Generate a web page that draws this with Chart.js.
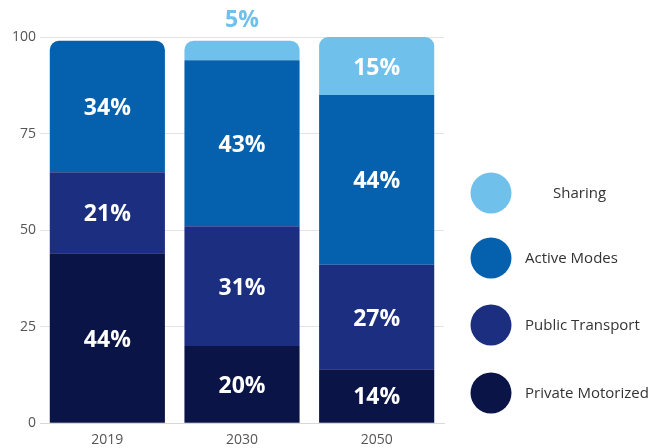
<!DOCTYPE html>
<html><head><meta charset="utf-8">
<script src="https://cdn.jsdelivr.net/npm/chart.js@4.4.1/dist/chart.umd.min.js"></script>
<style>html,body{margin:0;padding:0;background:#fff}#wrap{width:656px;height:448px}</style>
</head><body><div id="wrap"><canvas id="c" width="656" height="448"></canvas></div>
<script>
const categories = ['2019', '2030', '2050'];
const privateMotorized = [44, 20, 14];
const publicTransport = [21, 31, 27];
const activeModes = [34, 43, 44];
const sharing = [null, 5, 15];
const seriesNames = ['Private Motorized', 'Public Transport', 'Active Modes', 'Sharing'];
const yTicks = [0, 25, 50, 75, 100];

const colors = ['#0a1446', '#1b2e7f', '#0561ae', '#70c0ec'];
const seriesData = [privateMotorized, publicTransport, activeModes, sharing];
const FONT = '"Open Sans", "Noto Sans", sans-serif';

function topRadius(ctx) {
  const di = ctx.datasetIndex, i = ctx.dataIndex;
  for (let d = seriesData.length - 1; d >= 0; d--) {
    const v = seriesData[d][i];
    if (v != null && v !== 0) {
      return d === di ? {topLeft: 9, topRight: 9, bottomLeft: 0, bottomRight: 0} : 0;
    }
  }
  return 0;
}

const labelPlugin = {
  id: 'segLabels',
  afterDatasetsDraw(chart) {
    const c = chart.ctx;
    c.save();
    c.textAlign = 'center';
    c.textBaseline = 'middle';
    c.font = 'bold 23px ' + FONT;
    chart.data.datasets.forEach((ds, di) => {
      const meta = chart.getDatasetMeta(di);
      meta.data.forEach((bar, i) => {
        const v = ds.data[i];
        if (v == null) return;
        const p = bar.getProps(['x', 'y', 'base'], true);
        const h = Math.abs(p.base - p.y);
        if (h < 30) {
          c.fillStyle = colors[di];
          c.fillText(v + '%', p.x, chart.chartArea.top - 17);
        } else {
          c.fillStyle = '#ffffff';
          c.fillText(v + '%', p.x, (p.y + p.base) / 2 + 2);
        }
      });
    });
    c.restore();
  }
};

const legendPlugin = {
  id: 'sideLegend',
  afterDraw(chart) {
    const c = chart.ctx;
    c.save();
    const cx = 491, ys = [193, 258, 325, 393];
    const order = [3, 2, 1, 0];
    c.font = '15px ' + FONT;
    c.textBaseline = 'middle';
    c.textAlign = 'left';
    order.forEach((di, k) => {
      c.beginPath();
      c.arc(cx, ys[k], 20.5, 0, Math.PI * 2);
      c.fillStyle = colors[di];
      c.fill();
      c.fillStyle = '#333333';
      const tx = di === 3 ? 553 : 525;
      c.fillText(seriesNames[di], tx, ys[k] + 1);
    });
    c.restore();
  }
};

new Chart(document.getElementById('c'), {
  type: 'bar',
  data: {
    labels: categories,
    datasets: seriesNames.map((n, i) => ({
      label: n,
      data: seriesData[i],
      backgroundColor: colors[i],
      borderWidth: 0,
      borderRadius: topRadius,
      borderSkipped: 'start',
      categoryPercentage: 1,
      barPercentage: 0.855
    }))
  },
  options: {
    responsive: false,
    animation: false,
    layout: {padding: {top: 37, right: 212, left: 8, bottom: 0}},
    plugins: {legend: {display: false}, tooltip: {enabled: false}},
    scales: {
      x: {
        stacked: true,
        grid: {display: false},
        border: {display: true, color: '#d8d8d8'},
        ticks: {color: '#555', font: {family: FONT, size: 14}, padding: 0}
      },
      y: {
        stacked: true,
        min: 0, max: 100,
        afterBuildTicks(axis) { axis.ticks = yTicks.map(v => ({value: v})); },
        grid: {color: '#e3e3e3', drawTicks: false},
        border: {display: false},
        ticks: {color: '#555', font: {family: FONT, size: 14}, padding: 4}
      }
    }
  },
  plugins: [labelPlugin, legendPlugin]
});
</script></body></html>
